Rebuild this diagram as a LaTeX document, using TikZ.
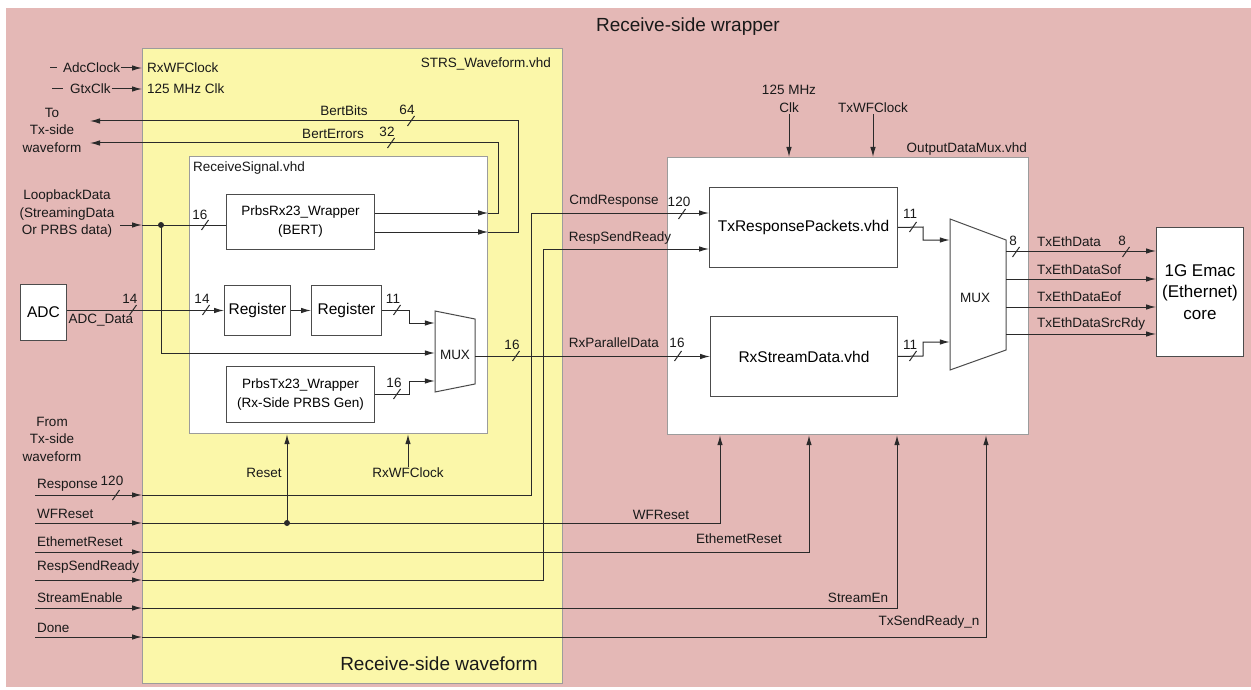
\documentclass[tikz,border=0pt]{standalone}
\usepackage{fontspec}
\setmainfont{Liberation Sans}
\usetikzlibrary{arrows.meta,calc}
\definecolor{pinkbg}{HTML}{E4B8B6}
\definecolor{ylw}{HTML}{FBF7A9}
\definecolor{cgray}{HTML}{9C9C9C}
\definecolor{wirec}{HTML}{2A2A2A}
\begin{document}
\begin{tikzpicture}[x=1pt,y=-1pt,
  >={Latex[length=10pt,width=5.5pt]},
  wire/.style={draw=wirec, line width=1pt},
  blk/.style={draw=black!70, fill=white, line width=1pt, inner sep=0pt, anchor=north west, align=center, font=\fontsize{13.5}{19}\selectfont},
  bigblk/.style={blk, font=\fontsize{15.5}{19}\selectfont},
  cont/.style={draw=cgray, line width=1.2pt, inner sep=0pt, anchor=north west},
  lbl/.style={inner sep=1pt, font=\fontsize{13.5}{17.5}\selectfont, text=black!90, align=center},
  big/.style={inner sep=1pt, font=\fontsize{19}{22}\selectfont, text=black!90},
  busmark/.pic={\draw[wire] (-3.5,5) -- (3.5,-5);}
]
\useasboundingbox (0,0) rectangle (1251,690);
% background
\fill[pinkbg] (6,8) rectangle (1251,687);
\node[big] (title) at (688,27) {Receive-side wrapper};

% containers
\node[cont, fill=ylw, minimum width=420pt, minimum height=635pt] (wf) at (142,48) {};
\node[lbl, anchor=east] (wfname) at (552,64) {STRS\_Waveform.vhd};
\node[big] (wfcap) at (439,664) {Receive-side waveform};
\node[cont, fill=white, minimum width=298pt, minimum height=277pt] (rs) at (189,156) {};
\node[lbl, anchor=west] (rsname) at (192,168) {ReceiveSignal.vhd};
\node[cont, fill=white, minimum width=361pt, minimum height=277pt] (odm) at (667,157) {};
\node[lbl, anchor=east] (odmname) at (1028,149) {OutputDataMux.vhd};

% blocks
\node[blk, minimum width=148pt, minimum height=55pt] (prx) at (226,194) {PrbsRx23\_Wrapper\\(BERT)};
\node[bigblk, minimum width=66pt, minimum height=50pt] (reg1) at (224,285) {Register};
\node[bigblk, minimum width=70pt, minimum height=50pt] (reg2) at (311,285) {Register};
\node[blk, minimum width=148pt, minimum height=56pt] (ptx) at (226,366) {PrbsTx23\_Wrapper\\(Rx-Side PRBS Gen)};
\node[bigblk, minimum width=46pt, minimum height=56pt] (adc) at (20,284) {ADC};
\node[bigblk, minimum width=188pt, minimum height=80pt] (txr) at (709,187) {TxResponsePackets.vhd};
\node[bigblk, minimum width=187pt, minimum height=80pt] (rxs) at (710,316) {RxStreamData.vhd};
\node[blk, minimum width=87pt, minimum height=129pt, font=\fontsize{17}{21.5}\selectfont] (emac) at (1156,227) {1G Emac\\(Ethernet)\\core};

% muxes
\draw[draw=black!70, fill=white, line width=1pt] (435,311) -- (475,319) -- (475,384) -- (435,392) -- cycle;
\node[lbl, minimum width=40pt, minimum height=81pt, inner sep=0pt] (mux1) at (455,351.5) {};
\node[lbl] (mux1t) at (455,355) {MUX};
\draw[draw=black!70, fill=white, line width=1pt] (950,219) -- (1006,240) -- (1006,350) -- (950,370) -- cycle;
\node[lbl, minimum width=56pt, minimum height=151pt, inner sep=0pt] (mux2) at (978,294.5) {};
\node[lbl] (mux2t) at (975,298) {MUX};

% clock inputs (top left)
\draw[wire] (50,68) -- (57,68);
\node[lbl, anchor=west] (adcclk) at (62,68) {AdcClock};
\draw[wire,->] (adcclk.east) -- (adcclk.east -| wf.west);
\node[lbl, anchor=west] (rxwfclk) at (146,68) {RxWFClock};
\draw[wire] (52,89) -- (63,89);
\node[lbl, anchor=west] (gtxclk) at (69,89) {GtxClk};
\draw[wire,->] (gtxclk.east) -- (gtxclk.east -| wf.west);
\node[lbl, anchor=west] (clk125a) at (146,89) {125 MHz Clk};

% To Tx-side waveform
\node[lbl] (totx) at (52,130) {To\\Tx-side\\waveform};
\coordinate (bbEnd) at (90,121);
\coordinate (beEnd) at (90,143);
\draw[wire,->] (prx.east |- 0,232) -- (rs.east |- 0,232);
\draw[wire,->] (rs.east |- 0,232) -- (518,232) -- (518,121) -- (bbEnd);
\draw[wire,->] (prx.east |- 0,213) -- (rs.east |- 0,213);
\draw[wire,->] (rs.east |- 0,213) -- (498,213) -- (498,143) -- (beEnd);
\node[lbl] (bbl) at (344,111) {BertBits};
\node[lbl] (n64) at (407,110) {64};
\pic at (411,121) {busmark};
\node[lbl] (bel) at (333,134) {BertErrors};
\node[lbl] (n32) at (387,132) {32};
\pic at (391,143) {busmark};

% Loopback
\node[lbl] (loop) at (67,214) {LoopbackData\\(StreamingData\\Or PRBS data)};
\coordinate (lbin) at (120,225);
\coordinate (dot1) at (161,225);
\draw[wire,->] (lbin) -- (lbin -| wf.west);
\draw[wire] (lbin -| wf.west) -- (prx.west |- dot1);
\fill[wirec] (dot1) circle (3pt);
\draw[wire,->] (dot1) |- (mux1.west |- 0,353);
\node[lbl] (n16a) at (200,215) {16};
\pic at (205,225) {busmark};

% ADC
\draw[wire,->] (adc.east |- reg1.west) -- (reg1.west);
\node[lbl] (n14a) at (130,299) {14};
\pic at (133,310) {busmark};
\node[lbl] (n14b) at (202,299) {14};
\pic at (206,310) {busmark};
\node[lbl] (adcd) at (101,320) {ADC\_Data};
\draw[wire,->] (reg1) -- (reg2);
\draw[wire,->] (reg2.east) -- ++(27,0) |- (mux1.west |- 0,323);
\node[lbl] (n11a) at (393,299) {11};
\pic at (397,310) {busmark};
\draw[wire,->] (ptx.east) -- ++(34,0) |- (mux1.west |- 0,381);
\node[lbl] (n16b) at (394,383) {16};
\pic at (397,394) {busmark};

% mux1 -> RxStreamData
\draw[wire,->] (mux1.east |- rxs.west) -- (rxs.west);
\node[lbl] (n16c) at (512,345) {16};
\pic at (516,356) {busmark};
\node[lbl] (rxpd) at (614,343) {RxParallelData};
\node[lbl] (n16d) at (677,343) {16};
\pic at (678,356) {busmark};

% inner clocks/reset
\node[lbl] (rxwfc2) at (408,473) {RxWFClock};
\draw[wire,->] (rxwfc2.north) -- (rxwfc2.north |- rs.south);
\node[lbl] (resetl) at (264,473) {Reset};

% From Tx-side waveform
\node[lbl] (fromtx) at (52,439) {From\\Tx-side\\waveform};
\coordinate (iResp) at (35,495);
\coordinate (iWFR) at (35,523);
\coordinate (iEth) at (35,552);
\coordinate (iRSR) at (35,580);
\coordinate (iSE) at (35,608);
\coordinate (iDone) at (35,637);
\node[lbl, anchor=west] (lResp) at (36,485) {Response};
\node[lbl] (n120a) at (112,481) {120};
\pic at (116,495) {busmark};
\node[lbl, anchor=west] (lWFR) at (36,514) {WFReset};
\node[lbl, anchor=west] (lEth) at (36,542) {EthemetReset};
\node[lbl, anchor=west] (lRSR) at (36,567) {RespSendReady};
\node[lbl, anchor=west] (lSE) at (36,598) {StreamEnable};
\node[lbl, anchor=west] (lDone) at (36,628) {Done};
\foreach \c in {iResp,iWFR,iEth,iRSR,iSE,iDone}{
  \draw[wire,->] (\c) -- (\c -| wf.west);
}
\draw[wire,->] (iResp -| wf.west) -- (531,495) -- (531,213) -- (txr.west |- 0,213);
\node[lbl] (cmdr) at (614,201) {CmdResponse};
\node[lbl] (n120b) at (679,202) {120};
\pic at (682,214) {busmark};
\draw[wire,->] (iRSR -| wf.west) -- (543,580) -- (543,249) -- (txr.west |- 0,249);
\node[lbl] (rsr2) at (620,238) {RespSendReady};
\coordinate (dot2) at (287,523);
\draw[wire,->] (iWFR -| wf.west) -- (720,523) -- (odm.south -| 720,0);
\fill[wirec] (dot2) circle (3pt);
\draw[wire,->] (dot2) -- (dot2 |- rs.south);
\node[lbl] (wfr2) at (661,515) {WFReset};
\draw[wire,->] (iEth -| wf.west) -- (809,552) -- (odm.south -| 809,0);
\node[lbl] (eth2) at (739,539) {EthemetReset};
\draw[wire,->] (iSE -| wf.west) -- (897,608) -- (odm.south -| 897,0);
\node[lbl] (se2) at (858,598) {StreamEn};
\draw[wire,->] (iDone -| wf.west) -- (986,637) -- (odm.south -| 986,0);
\node[lbl] (done2) at (929,622) {TxSendReady\_n};

% OutputDataMux clocks
\node[lbl] (clk125b) at (789,99) {125 MHz\\Clk};
\draw[wire,->] (clk125b.south) -- (clk125b.south |- odm.north);
\node[lbl] (txwfc) at (873,108) {TxWFClock};
\draw[wire,->] (txwfc.south) -- (txwfc.south |- odm.north);

% into mux2
\draw[wire,->] (txr.east) -- (923,227) |- (mux2.west |- 0,240);
\node[lbl] (n11b) at (910,214) {11};
\pic at (913,227) {busmark};
\draw[wire,->] (rxs.east) -- (923,356) |- (mux2.west |- 0,342);
\node[lbl] (n11c) at (910,345) {11};
\pic at (913,356) {busmark};

% mux2 -> emac
\draw[wire,->] (mux2.east |- 0,251) -- (emac.west |- 0,251);
\draw[wire,->] (mux2.east |- 0,279) -- (emac.west |- 0,279);
\draw[wire,->] (mux2.east |- 0,307) -- (emac.west |- 0,307);
\draw[wire,->] (mux2.east |- 0,334) -- (emac.west |- 0,334);
\node[lbl] (n8a) at (1013,241) {8};
\pic at (1016,252) {busmark};
\node[lbl] (n8b) at (1122,241) {8};
\pic at (1126,252) {busmark};
\node[lbl, anchor=west] (ted) at (1036,242) {TxEthData};
\node[lbl, anchor=west] (tes) at (1036,270) {TxEthDataSof};
\node[lbl, anchor=west] (tee) at (1036,297) {TxEthDataEof};
\node[lbl, anchor=west] (ter) at (1036,324) {TxEthDataSrcRdy};
\end{tikzpicture}
\end{document}
